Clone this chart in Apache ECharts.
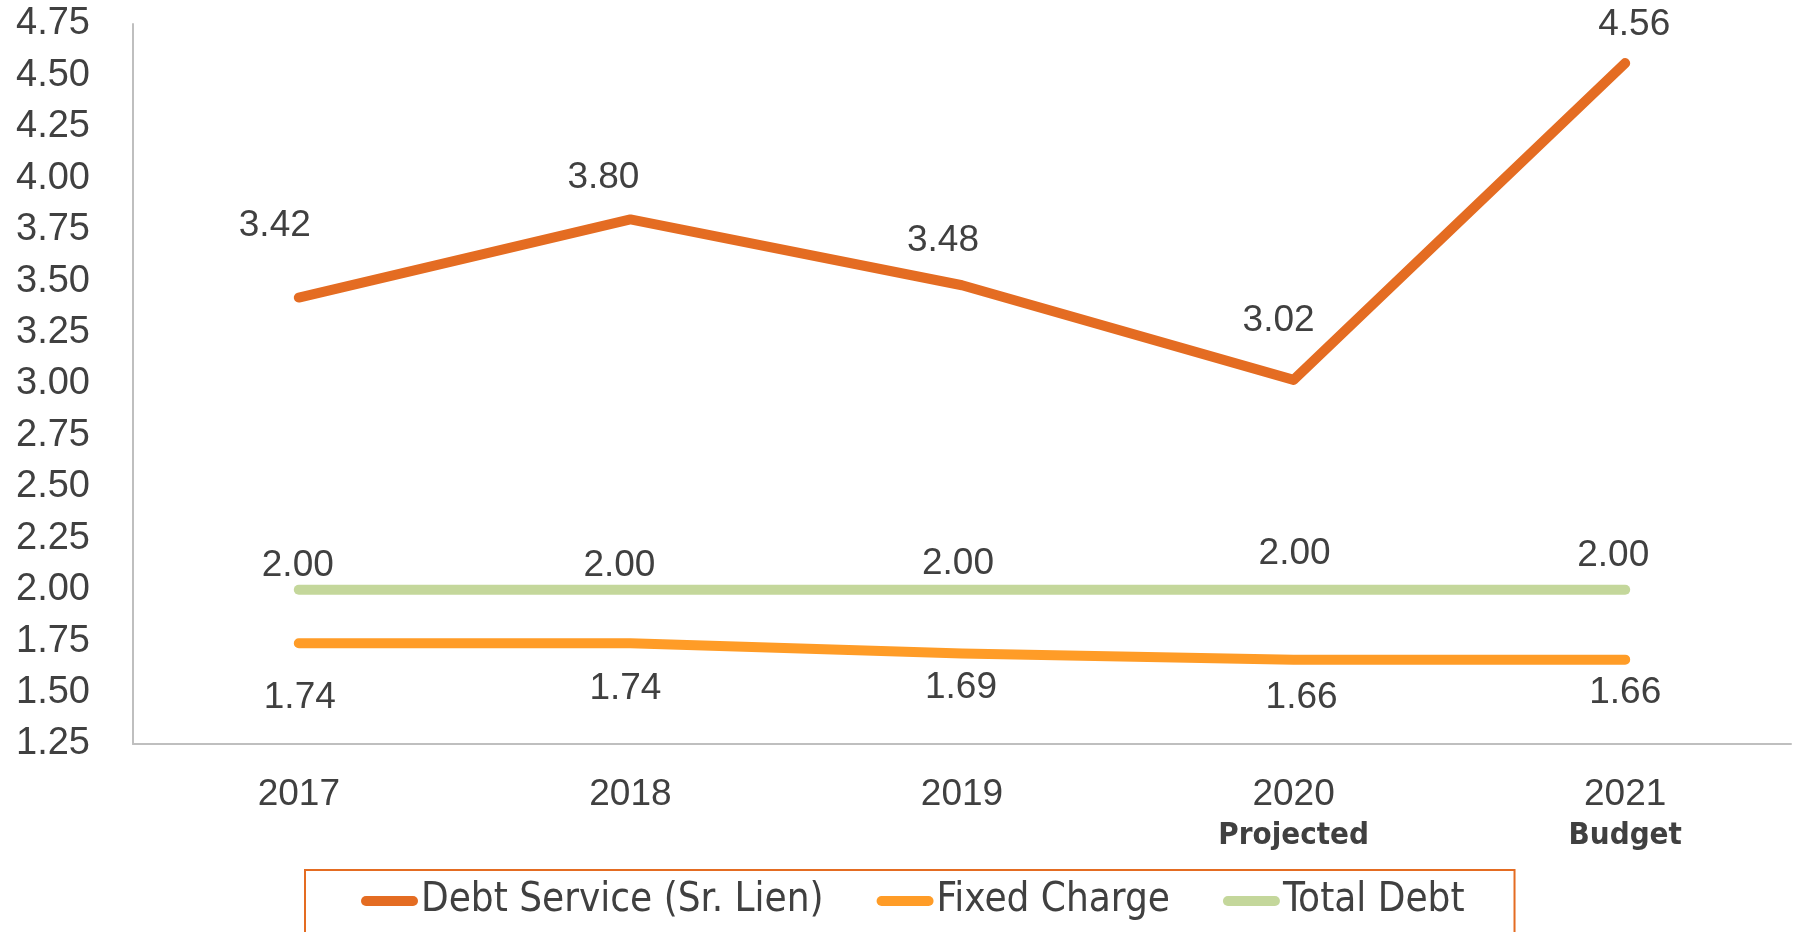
<!DOCTYPE html>
<html>
<head>
<meta charset="utf-8">
<script src="https://cdn.jsdelivr.net/npm/echarts@6/dist/echarts.min.js"></script>
<style>
  html, body { margin: 0; padding: 0; background: #fff; }
  #chart { width: 1794px; height: 932px; }
</style>
</head>
<body>
<div id="chart"></div>
<script>
const years = ['2017', '2018', '2019', '2020', '2021']
const yearNotes = ['', '', '', 'Projected', 'Budget']
const debtService = [3.42, 3.80, 3.48, 3.02, 4.56]
const fixedCharge = [1.74, 1.74, 1.69, 1.66, 1.66]
const totalDebt = [2.00, 2.00, 2.00, 2.00, 2.00]

// label nudges (label centre relative to the point), styling only
const debtShift = [[-24, -72], [-27, -42], [-19, -44], [-15, -59], [9, -38]]
const totalShift = [[-1, -24], [-11, -24], [-4, -26], [1, -36], [-12, -34]]
const fixedShift = [[1, 55], [-5, 46], [-1, 34], [8, 38], [0, 33]]

const textColor = '#404040'
const mainFont = "'Liberation Sans', Arial, sans-serif"
const narrowFont = "'Liberation Sans Narrow', 'DejaVu Sans Condensed', 'Liberation Sans', sans-serif"
const capsule = 'path://M5,0 L52,0 A5,5 0 0 1 52,10 L5,10 A5,5 0 0 1 5,0 Z'

function withLabels(values, shifts) {
  return values.map((v, i) => ({
    value: v,
    label: { offset: shifts[i] }
  }))
}

function lineSeries(name, values, shifts, color) {
  return {
    name: name,
    type: 'line',
    data: withLabels(values, shifts),
    symbol: 'circle',
    symbolSize: 1,
    itemStyle: { color: color },
    lineStyle: { color: color, width: 10, cap: 'round', join: 'round' },
    label: {
      show: true,
      position: 'inside',
      formatter: p => p.value.toFixed(2),
      fontFamily: mainFont,
      fontSize: 37,
      color: textColor
    },
    emphasis: { disabled: true },
    animation: false
  }
}

const chart = echarts.init(document.getElementById('chart'))
chart.setOption({
  backgroundColor: '#fff',
  grid: { left: 133, right: 3, top: 24, bottom: 188, containLabel: false },
  xAxis: {
    type: 'category',
    data: years,
    boundaryGap: true,
    axisLine: { lineStyle: { color: '#BFBFBF', width: 2 } },
    axisTick: { show: false },
    axisLabel: {
      margin: 30,
      formatter: (v, i) => yearNotes[i] ? '{y|' + v + '}\n{n|' + yearNotes[i] + '}' : '{y|' + v + '}',
      rich: {
        y: { fontFamily: mainFont, fontSize: 37, color: textColor, lineHeight: 42 },
        n: { fontFamily: narrowFont, fontWeight: 'bold', fontSize: 31, color: textColor, lineHeight: 40 }
      }
    }
  },
  yAxis: {
    type: 'value',
    min: 1.25,
    max: 4.75,
    interval: 0.25,
    splitLine: { show: false },
    axisLine: { show: true, lineStyle: { color: '#BFBFBF', width: 2 } },
    axisTick: { show: false },
    axisLabel: {
      margin: 43,
      formatter: v => v.toFixed(2),
      fontFamily: mainFont,
      fontSize: 38,
      color: textColor
    }
  },
  legend: {
    left: 305,
    top: 870,
    padding: [11, 50, 40, 56],
    borderColor: '#E46C22',
    borderWidth: 2,
    itemGap: 53,
    itemWidth: 57,
    itemHeight: 10,
    icon: capsule,
    selectedMode: false,
    textStyle: { fontFamily: narrowFont, fontSize: 40, color: textColor, padding: [0, 0, 0, -2] },
    data: ['Debt Service (Sr. Lien)', 'Fixed Charge', 'Total Debt']
  },
  series: [
    lineSeries('Debt Service (Sr. Lien)', debtService, debtShift, '#E46C22'),
    lineSeries('Fixed Charge', fixedCharge, fixedShift, '#FF9C27'),
    lineSeries('Total Debt', totalDebt, totalShift, '#C4D79B')
  ]
})
</script>
</body>
</html>
